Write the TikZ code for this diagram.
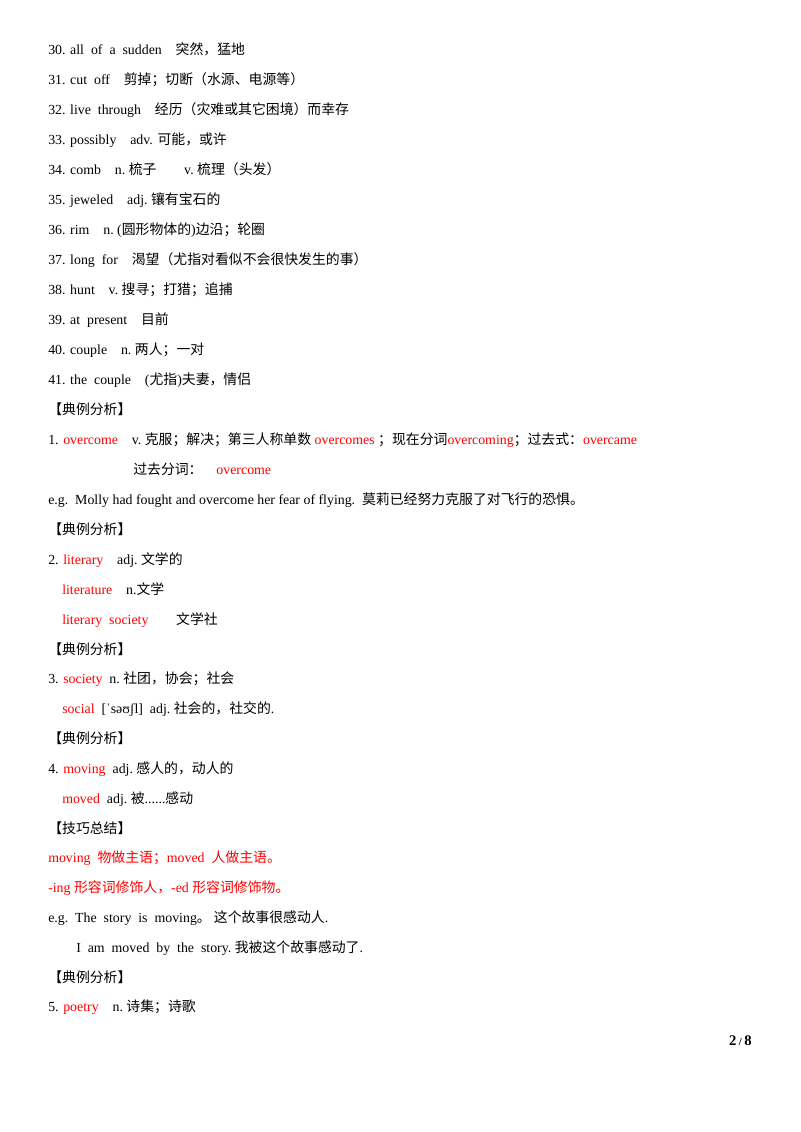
\documentclass[tikz,border=0pt]{standalone}
\usepackage{fontspec}
\setmainfont{Liberation Serif}
\newfontfamily\cjk{Noto Sans CJK SC}
\newcommand\C[1]{{\cjk #1}}
\begin{document}
\begin{tikzpicture}[x=0.75pt,y=-0.75pt,
  ln/.style={anchor=base west,inner sep=0pt,font=\fontsize{10.4pt}{12pt}\selectfont},
  rd/.style={text=red}]
\useasboundingbox (0,0) rectangle (800,1132);
\def\r#1{\textcolor{red}{#1}}
\node[ln] (l1) at (48,54) {30. all\ \ of\ \ a\ \ sudden\quad \C{突然，猛地}};
\node[ln] (l2) at (48,84) {31. cut\ \ off\quad \C{剪掉；切断（水源、电源等）}};
\node[ln] (l3) at (48,114) {32. live\ \ through\quad \C{经历（灾难或其它困境）而幸存}};
\node[ln] (l4) at (48,144) {33. possibly\quad adv. \C{可能，或许}};
\node[ln] (l5) at (48,174) {34. comb\quad n.\ \C{梳子}\qquad v.\ \C{梳理（头发）}};
\node[ln] (l6) at (48,204) {35. jeweled\quad adj.\ \C{镶有宝石的}};
\node[ln] (l7) at (48,234) {36. rim\quad n.\ (\C{圆形物体的})\C{边沿；轮圈}};
\node[ln] (l8) at (48,264) {37. long\ \ for\quad \C{渴望（尤指对看似不会很快发生的事）}};
\node[ln] (l9) at (48,294) {38. hunt\quad v.\ \C{搜寻；打猎；追捕}};
\node[ln] (l10) at (48,324) {39. at\ \ present\quad \C{目前}};
\node[ln] (l11) at (48,354) {40. couple\quad n.\ \C{两人；一对}};
\node[ln] (l12) at (48,384) {41. the\ \ couple\quad (\C{尤指})\C{夫妻，情侣}};
\node[ln] (h1) at (48,414) {\C{【典例分析】}};
\node[ln] (e1) at (48,444) {1. \r{overcome}\quad v.\ \C{克服；解决；第三人称单数} \r{overcomes} \C{；现在分词}\r{overcoming}\C{；过去式：}\r{overcame}};
\node[ln] (e1b) at (133,474) {\C{过去分词：}\quad \r{overcome}};
\node[ln] (eg1) at (48,504) {e.g.\ \ Molly had fought and overcome her fear of flying.\ \ \C{莫莉已经努力克服了对飞行的恐惧。}};
\node[ln] (h2) at (48,534) {\C{【典例分析】}};
\node[ln] (e2) at (48,564) {2. \r{literary}\quad adj.\ \C{文学的}};
\node[ln] (e2b) at (62,594) {\r{literature}\quad n.\C{文学}};
\node[ln] (e2c) at (62,624) {\r{literary\ \ society}\qquad \C{文学社}};
\node[ln] (h3) at (48,654) {\C{【典例分析】}};
\node[ln] (e3) at (48,683) {3. \r{society}\ \ n.\ \C{社团，协会；社会}};
\node[ln] (e3b) at (62,713) {\r{social}\ \ [ˈsəʊʃl]\ \ adj.\ \C{社会的，社交的}.};
\node[ln] (h4) at (48,743) {\C{【典例分析】}};
\node[ln] (e4) at (48,773) {4. \r{moving}\ \ adj.\ \C{感人的，动人的}};
\node[ln] (e4b) at (62,803) {\r{moved}\ \ adj.\ \C{被}......\C{感动}};
\node[ln] (h5) at (48,833) {\C{【技巧总结】}};
\node[ln] (t1) at (48,862) {\r{moving\ \ \C{物做主语；}moved\ \ \C{人做主语。}}};
\node[ln] (t2) at (48,892) {\r{-ing \C{形容词修饰人，}-ed \C{形容词修饰物。}}};
\node[ln] (eg2) at (48,922) {e.g.\ \ The\ \ story\ \ is\ \ moving\C{。\ 这个故事很感动人}.};
\node[ln] (eg3) at (76,952) {I\ \ am\ \ moved\ \ by\ \ the\ \ story.\ \C{我被这个故事感动了}.};
\node[ln] (h6) at (48,982) {\C{【典例分析】}};
\node[ln] (e5) at (48,1011) {5. \r{poetry}\quad n.\ \C{诗集；诗歌}};
\node[ln,anchor=base east,font=\bfseries\fontsize{11pt}{13pt}\selectfont] (pg) at (752,1045) {2\,{\fontsize{8pt}{9pt}\selectfont /}\,8};
\end{tikzpicture}
\end{document}
